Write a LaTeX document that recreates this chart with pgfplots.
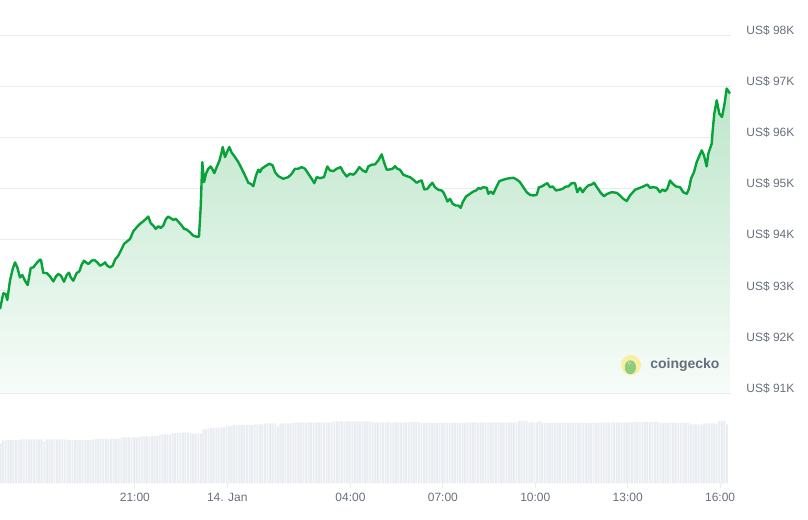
\documentclass[border=0pt]{standalone}
\usepackage{fontspec}
\setmainfont{Liberation Sans}
\usepackage{pgfplots}
\pgfplotsset{compat=1.18}
\usepackage{pgfplotstable}
\definecolor{linegreen}{RGB}{8,162,58}
\definecolor{gridgrey}{RGB}{232,235,239}
\definecolor{labelgrey}{RGB}{104,112,124}
\definecolor{volgrey}{RGB}{233,236,241}
\definecolor{logoyellow}{RGB}{250,238,160}
\definecolor{logogreen}{RGB}{140,205,125}
\definecolor{logotext}{RGB}{100,110,125}

% price, hours from 14 Jan 00:00
\pgfplotstableread{
h p
-7.380 92640
-7.325 92800
-7.273 92950
-7.195 92935
-7.143 92820
-7.055 93200
-6.968 93425
-6.893 93555
-6.818 93457
-6.731 93261
-6.656 93308
-6.568 93196
-6.481 93112
-6.383 93445
-6.299 93457
-6.188 93543
-6.081 93608
-6.049 93602
-5.974 93347
-5.864 93347
-5.756 93280
-5.649 93182
-5.562 93280
-5.487 93327
-5.399 93294
-5.302 93176
-5.214 93308
-5.140 93353
-5.084 93261
-5.000 93196
-4.890 93347
-4.805 93378
-4.727 93510
-4.653 93588
-4.588 93555
-4.513 93523
-4.403 93588
-4.318 93602
-4.221 93555
-4.133 93490
-4.026 93523
-3.971 93555
-3.896 93490
-3.808 93457
-3.721 93490
-3.646 93608
-3.539 93686
-3.429 93818
-3.354 93916
-3.266 93961
-3.159 94010
-3.052 94163
-2.942 94241
-2.834 94308
-2.727 94359
-2.617 94418
-2.565 94451
-2.487 94320
-2.403 94275
-2.325 94210
-2.240 94261
-2.162 94229
-2.078 94275
-1.990 94406
-1.916 94451
-1.838 94418
-1.753 94386
-1.675 94406
-1.591 94353
-1.481 94275
-1.406 94210
-1.318 94196
-1.211 94143
-1.104 94078
-1.016 94059
-0.919 94059
-0.864 94633
-0.812 95516
-0.756 95124
-0.692 95288
-0.617 95386
-0.539 95431
-0.474 95367
-0.422 95300
-0.344 95418
-0.260 95535
-0.182 95712
-0.149 95810
-0.075 95614
0.000 95725
0.065 95810
0.143 95700
0.250 95614
0.357 95516
0.468 95386
0.575 95255
0.682 95112
0.760 95092
0.844 95045
0.932 95255
1.006 95367
1.062 95320
1.117 95386
1.224 95431
1.364 95484
1.474 95451
1.549 95320
1.656 95241
1.818 95190
1.981 95222
2.091 95288
2.198 95386
2.305 95386
2.416 95418
2.523 95386
2.630 95288
2.740 95190
2.825 95104
2.903 95222
3.010 95202
3.140 95222
3.247 95431
3.334 95353
3.442 95339
3.552 95386
3.682 95418
3.766 95320
3.877 95235
3.984 95288
4.091 95269
4.179 95320
4.286 95418
4.396 95353
4.503 95320
4.578 95431
4.688 95465
4.795 95471
4.903 95549
5.013 95667
5.088 95516
5.175 95367
5.282 95373
5.370 95386
5.445 95437
5.519 95386
5.607 95367
5.714 95269
5.825 95241
5.932 95222
6.039 95171
6.149 95112
6.234 95143
6.312 95157
6.396 94980
6.494 94994
6.581 95059
6.656 95112
6.744 95025
6.851 94974
6.961 94961
7.013 94927
7.101 94818
7.143 94745
7.231 94798
7.318 94700
7.416 94667
7.500 94667
7.578 94622
7.643 94731
7.750 94843
7.880 94896
7.987 94941
8.075 94961
8.149 95006
8.227 94994
8.312 95025
8.422 95014
8.474 94896
8.552 94941
8.636 94896
8.724 95014
8.831 95143
8.961 95171
9.071 95190
9.179 95202
9.286 95210
9.396 95176
9.503 95124
9.610 95025
9.721 94927
9.828 94876
9.935 94863
10.045 94876
10.120 95025
10.208 95039
10.315 95078
10.390 95104
10.477 95025
10.565 95039
10.672 94961
10.779 94974
10.890 94994
10.997 95039
11.071 95039
11.182 95104
11.289 95104
11.364 94927
11.451 95014
11.539 94927
11.614 94994
11.721 95059
11.831 95078
11.906 95112
12.013 95014
12.123 94916
12.230 94849
12.338 94896
12.481 94927
12.643 94916
12.750 94863
12.857 94798
12.968 94755
13.075 94863
13.237 94974
13.399 95014
13.506 95039
13.636 95078
13.724 95014
13.831 95025
13.942 95014
14.049 94927
14.136 94980
14.211 94947
14.286 94994
14.373 95157
14.461 95092
14.568 95039
14.698 95025
14.805 94927
14.916 94896
14.990 94994
15.055 95190
15.153 95320
15.240 95516
15.403 95745
15.477 95647
15.565 95431
15.617 95680
15.727 95876
15.760 96137
15.812 96465
15.890 96725
15.974 96465
16.062 96398
16.136 96627
16.214 96955
16.321 96857
}\pricetable

% volume bars, one every 5 minutes
\pgfplotstableread[header=false, row sep=\\]{
40\\43\\43\\43.5\\43.5\\43.5\\43.5\\43.5\\44\\44\\44\\44\\
44\\44\\44\\44\\44\\42\\44\\44\\44\\44\\44\\44\\
44\\44\\43.5\\43.5\\43\\43.5\\43.5\\43.5\\43\\43.5\\43.5\\43.5\\
44\\44\\44.5\\44.5\\44.5\\44.5\\44\\44.5\\44.5\\44.5\\44.5\\45.5\\
46\\46\\46\\46\\46\\46\\46.5\\47\\47\\47\\47\\47.5\\
47.5\\47.5\\48.5\\49\\49\\49\\49\\50\\50.5\\50.5\\50.5\\51\\
51\\51\\50.5\\50\\50\\50\\50\\54\\54\\55\\55.5\\55.5\\
55.5\\55.5\\56\\56\\57.5\\57.5\\57.5\\58.5\\58.5\\58.5\\58.5\\58.5\\
58.5\\58.5\\58.5\\59\\59\\59\\59.5\\60\\60\\60\\60\\60\\
57\\60\\60\\60\\60\\60\\60.5\\61\\61\\61\\61\\61\\
61\\61\\61\\61\\61\\61\\61\\61\\61\\61\\62\\62\\
62\\62\\62\\62\\62\\62\\62\\62\\62\\62\\62\\62\\
62\\61\\61\\61\\61\\61\\61\\61\\61\\61\\61\\61\\
61\\61\\61\\61\\61.5\\61.5\\61.5\\61.5\\60.5\\60.5\\60.5\\60.5\\
60.5\\60.5\\60.5\\60.5\\60.5\\60.5\\60.5\\60.5\\60.5\\60.5\\60.5\\60.5\\
60.5\\60.5\\61\\61\\61\\61\\61\\61\\61\\61\\61\\61\\
61\\61\\61\\61\\61\\61\\61\\61\\61\\61\\62.3\\62.3\\
62.3\\62.3\\61\\61\\61\\61\\62.5\\60.5\\60.5\\60.5\\60.5\\60.5\\
60.5\\60.5\\60.5\\60.5\\60.5\\60.5\\60.5\\60.3\\60.3\\60.3\\60.3\\60.3\\
60.3\\60.3\\60.3\\60.3\\60.3\\60.3\\61\\61\\61\\61\\61\\61\\
61\\61\\61\\61\\61\\61\\61\\61.3\\61.3\\61.3\\61.3\\61.3\\
61.3\\61.3\\61.3\\61.3\\61.3\\60.3\\60.3\\60.3\\60.3\\60.3\\60.3\\60.3\\
60.3\\60.3\\60.3\\60.3\\60.3\\59\\59\\59\\59\\59\\60\\60\\
60\\60\\60\\60\\62.5\\62.5\\62.5\\59\\
}\voltable

\pgfplotsset{
    every axis/.append style={
        scale only axis,
        anchor=south west,
        width=548.25pt,
        xmin=-7.38, xmax=16.354,
        axis line style={draw=none},
        tick label style={font=\fontsize{9}{10}\selectfont, text=labelgrey},
    },
}

\begin{document}
\begin{tikzpicture}
    \useasboundingbox (0,0) rectangle (606pt,389.25pt);

    % price panel
    \begin{axis}[
        at={(0pt,94.5pt)},
        height=294.75pt,
        ymin=91000, ymax=98686,
        xtick=\empty,
        ytick={91000,92000,...,98000},
        yticklabels={US\$ 91K,US\$ 92K,US\$ 93K,US\$ 94K,US\$ 95K,US\$ 96K,US\$ 97K,US\$ 98K},
        yticklabel pos=right,
        yticklabel style={anchor=west, xshift=8pt, yshift=3.5pt},
        major tick length=0pt,
        ymajorgrids,
        grid style={gridgrey, line width=0.75pt},
    ]
        \addplot[draw=none, top color=linegreen!27, bottom color=linegreen!3]
            table[x=h, y=p] {\pricetable} \closedcycle;
        \addplot[linegreen, line width=1.8pt, line join=round]
            table[x=h, y=p] {\pricetable};
    \end{axis}

    % volume panel
    \begin{axis}[
        at={(0pt,26.8pt)},
        height=67.7pt,
        ymin=0, ymax=90.3,
        ytick=\empty,
        xtick={-3,0,4,7,10,13,16},
        xticklabels={21:00,14. Jan,04:00,07:00,10:00,13:00,16:00},
        xtick pos=bottom,
        tick align=outside,
        major tick length=3.75pt,
        xtick style={draw=gridgrey, line width=0.75pt},
    ]
        \addplot[ybar, bar width=0.062, fill=volgrey, draw=none]
            table[x expr=-7.36+\coordindex/12, y index=0] {\voltable};
    \end{axis}

    % watermark
    \fill[logoyellow] (473.25pt,115.5pt) circle (7.5pt);
    \fill[logogreen] (472.8pt,113.8pt) ellipse (4.2pt and 5.2pt);
    \fill[white] (472.2pt,117pt) circle (1.1pt);
    \fill[black!70] (472.4pt,117pt) circle (0.5pt);
    \node[anchor=west, inner sep=0pt, text=logotext,
          font=\bfseries\fontsize{10.5}{12}\selectfont] at (487.5pt,115.5pt) {coingecko};
\end{tikzpicture}
\end{document}
